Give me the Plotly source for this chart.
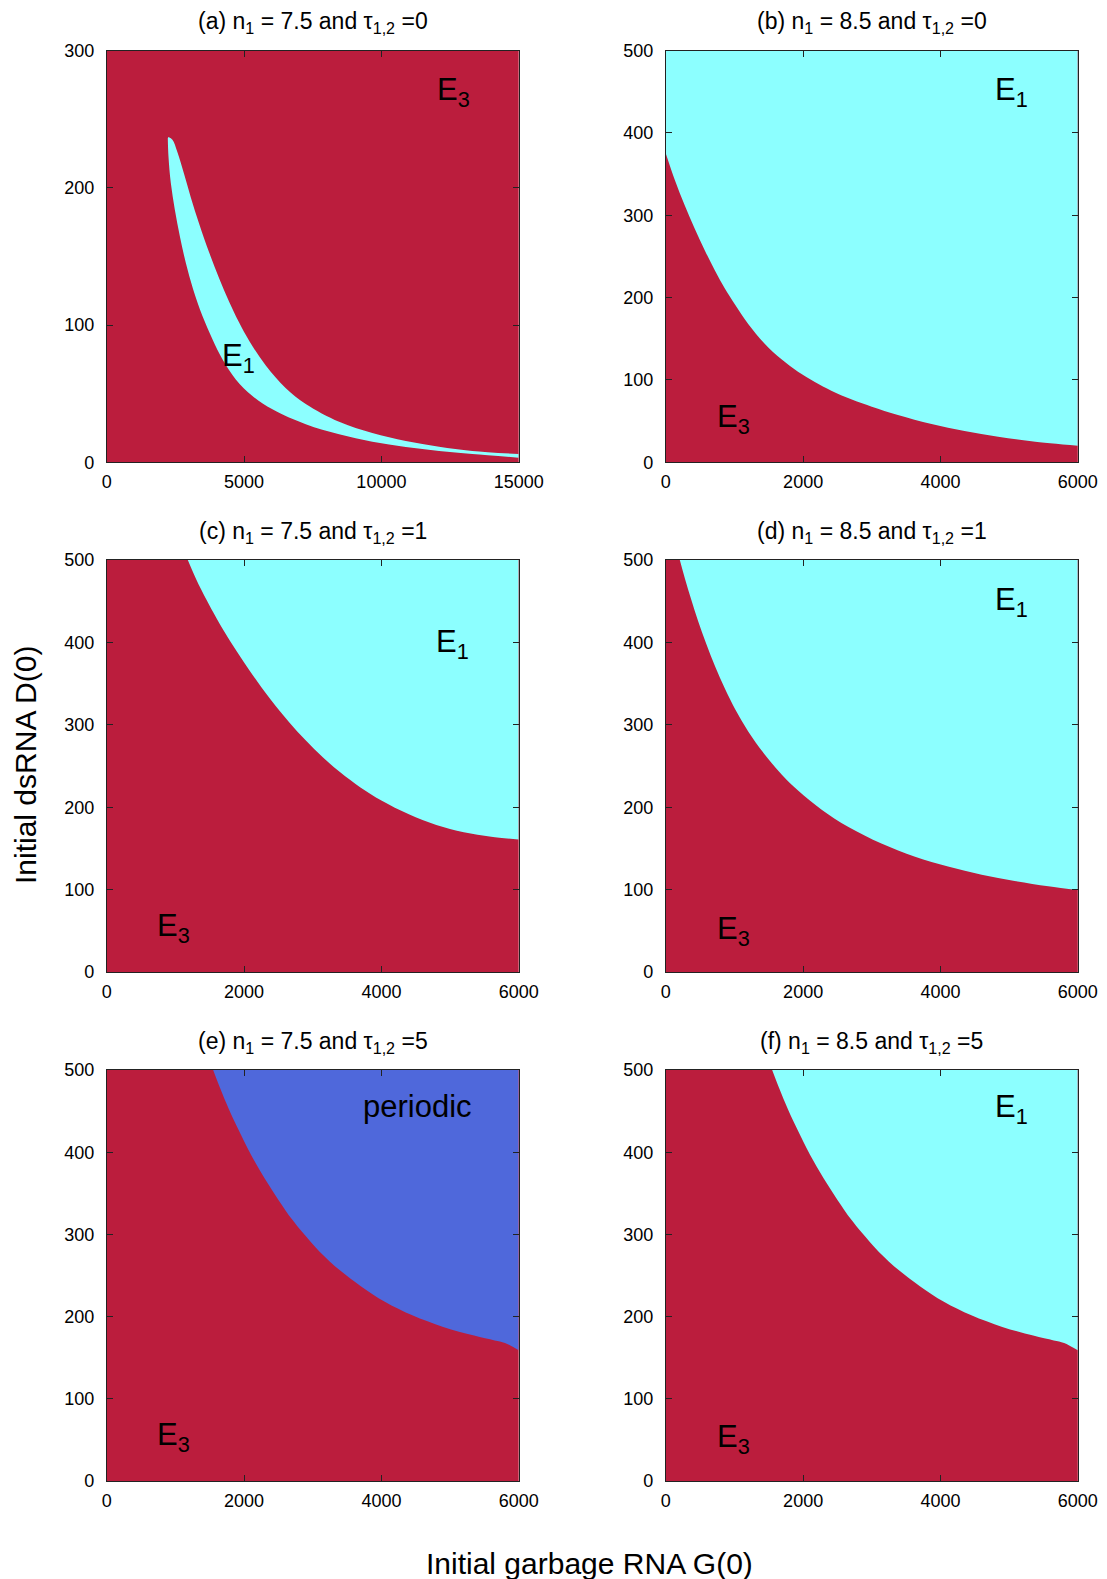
import plotly.graph_objects as go
from plotly.subplots import make_subplots

# ---------------- data ----------------
# panel (a): E1 band bounded by an upper and a lower curve
a_upper_x = [2245, 2390, 2570, 2815, 3060, 3360, 3725, 4090, 4455, 4800, 5200, 5790, 6520, 7245, 8460, 9670, 10890, 12100, 13310, 15000]
a_upper_y = [237, 235, 226, 210, 193, 174, 153, 134, 117, 102.5, 88, 70.5, 54, 42.5, 29.5, 21.3, 15.5, 11.3, 8.3, 6]
a_lower_x = [2221, 2245, 2330, 2476, 2658, 2876, 3143, 3483, 3847, 4211, 4697, 5303, 6032, 7245, 8459, 9672, 10886, 12099, 13313, 15000]
a_lower_y = [236, 223, 203.6, 184.2, 164.8, 145.4, 126, 106.5, 89.6, 75, 60.4, 48.3, 38.6, 27.7, 20.4, 15, 11.2, 8.3, 6.1, 3.4]

# panel (b): boundary between E3 (below) and E1 (above)
b_x = [0, 130, 275, 420, 570, 715, 860, 1005, 1200, 1440, 1685, 1925, 2170, 2410, 2700, 3000, 3380, 3870, 4350, 4840, 5325, 6000]
b_y = [375, 343, 312, 284, 257, 233, 211, 192, 168, 144, 125, 110, 97.5, 87, 76.5, 67.5, 57.5, 46.5, 38, 31, 25.5, 20]

# panel (c)
c_x = [1180, 1300, 1450, 1600, 1800, 2000, 2200, 2400, 2650, 2900, 3150, 3400, 3700, 4000, 4400, 4800, 5200, 5600, 6000]
c_y = [500, 477, 452, 429, 401, 375.7, 351.7, 329.3, 303.8, 280.8, 260.3, 242.3, 223.7, 208.1, 191.3, 178.5, 169.7, 164.1, 160.9]

# panel (d)
d_x = [204, 280, 370, 470, 590, 720, 860, 1010, 1200, 1440, 1690, 1930, 2270, 2660, 3140, 3630, 4110, 4600, 5080, 5570, 6000]
d_y = [500, 477, 452, 426, 398, 370.5, 344, 319, 292, 264, 239.5, 220, 197, 176, 156, 140, 128, 118, 110.5, 104, 99.4]

# panel (e): boundary between E3 (below) and periodic (above)
e_x = [1549, 1650, 1780, 1920, 2100, 2300, 2500, 2700, 2850, 3100, 3400, 3700, 4050, 4450, 4900, 5350, 5650, 5800, 6000]
e_y = [500, 478, 452, 427, 397, 368, 342, 318, 302.5, 279, 256, 237, 218, 201.5, 187.5, 177, 171, 168, 159]

# panel (f)
f_x = [1549, 1650, 1780, 1920, 2100, 2300, 2500, 2700, 2850, 3100, 3400, 3700, 4050, 4450, 4900, 5350, 5650, 5800, 6000]
f_y = [500, 478, 452, 427, 397, 368, 342, 318, 302.5, 279, 256, 237, 218, 201.5, 187.5, 177, 171, 168, 159]

x_ticks_a = [0, 5000, 10000, 15000]
x_ticks = [0, 2000, 4000, 6000]
y_ticks_a = [0, 100, 200, 300]
y_ticks = [0, 100, 200, 300, 400, 500]

titles = [
    "(a) n<sub>1</sub> = 7.5 and τ<sub>1,2</sub> =0",
    "(b) n<sub>1</sub> = 8.5 and τ<sub>1,2</sub> =0",
    "(c) n<sub>1</sub> = 7.5 and τ<sub>1,2</sub> =1",
    "(d) n<sub>1</sub> = 8.5 and τ<sub>1,2</sub> =1",
    "(e) n<sub>1</sub> = 7.5 and τ<sub>1,2</sub> =5",
    "(f) n<sub>1</sub> = 8.5 and τ<sub>1,2</sub> =5",
]

# ---------------- style ----------------
RED = "#BB1D3D"
CYAN = "#8CFFFF"
BLUE = "#4F68DB"
FONT = "Liberation Sans, Arial, Helvetica, sans-serif"
OFF = 8                      # page body margin of the browser
W, H = 1107 - OFF, 1579 - OFF
SPL = dict(width=0, shape="spline", smoothing=1.0)

def px_x(p):
    return (p - OFF) / W

def px_y(p):
    return 1 - (p - OFF) / H

fig = make_subplots(rows=3, cols=2)

def top_line(row, col, x0, x1, ymax):
    fig.add_trace(go.Scatter(x=[x0, x1], y=[ymax, ymax], mode="lines",
                             line=dict(width=0), hoverinfo="skip",
                             showlegend=False), row=row, col=col)

def region(row, col, xs, ys, color):
    fig.add_trace(go.Scatter(x=xs, y=ys, mode="lines", fill="tonexty",
                             fillcolor=color, line=SPL,
                             hoverinfo="skip", showlegend=False),
                  row=row, col=col)

# (a)
fig.add_trace(go.Scatter(x=a_upper_x, y=a_upper_y, mode="lines", line=SPL,
                         hoverinfo="skip", showlegend=False), row=1, col=1)
region(1, 1, a_lower_x, a_lower_y, CYAN)
# (b)
top_line(1, 2, b_x[0], b_x[-1], 500)
region(1, 2, b_x, b_y, CYAN)
# (c)
top_line(2, 1, c_x[0], c_x[-1], 500)
region(2, 1, c_x, c_y, CYAN)
# (d)
top_line(2, 2, d_x[0], d_x[-1], 500)
region(2, 2, d_x, d_y, CYAN)
# (e)
top_line(3, 1, e_x[0], e_x[-1], 500)
region(3, 1, e_x, e_y, BLUE)
# (f)
top_line(3, 2, f_x[0], f_x[-1], 500)
region(3, 2, f_x, f_y, CYAN)

# plot areas in page pixels
cols = [(106.8, 518.7), (665.8, 1077.8)]
rows = [(50.5, 462.3), (560.0, 972.0), (1070.0, 1481.0)]

axis_common = dict(showgrid=False, zeroline=False, showline=True, mirror="ticks",
                   linecolor="#222222", linewidth=1, ticks="inside", ticklen=6,
                   tickwidth=1, tickcolor="#222222", automargin=False,
                   tickfont=dict(family=FONT, size=18, color="black"))

idx = 0
annotations = []
for r in range(3):
    for c in range(2):
        idx += 1
        sfx = "" if idx == 1 else str(idx)
        x0, x1 = cols[c]
        y0, y1 = rows[r]
        xd = [px_x(x0), px_x(x1)]
        yd = [px_y(y1), px_y(y0)]
        if idx == 1:
            xr, xt, yr, yt = [0, 15000], x_ticks_a, [0, 300], y_ticks_a
        else:
            xr, xt, yr, yt = [0, 6000], x_ticks, [0, 500], y_ticks
        fig.layout["xaxis" + sfx].update(domain=xd, range=xr, tickvals=xt,
                                         ticktext=[str(v) for v in xt],
                                         ticklabelstandoff=3, **axis_common)
        fig.layout["yaxis" + sfx].update(domain=yd, range=yr, tickvals=yt,
                                         ticktext=[str(v) for v in yt],
                                         ticklabelstandoff=8, **axis_common)
        annotations.append(dict(text=titles[idx - 1], xref="paper", yref="paper",
                                x=(xd[0] + xd[1]) / 2, y=px_y(y0 - 28),
                                xanchor="center", yanchor="middle", showarrow=False,
                                font=dict(family=FONT, size=23, color="black")))

# region labels
labels = [
    (1, "E<sub>3</sub>", 12640, 270), (1, "E<sub>1</sub>", 4800, 76),
    (2, "E<sub>1</sub>", 5040, 450), (2, "E<sub>3</sub>", 980, 52),
    (3, "E<sub>1</sub>", 5030, 398), (3, "E<sub>3</sub>", 965, 53),
    (4, "E<sub>1</sub>", 5040, 449), (4, "E<sub>3</sub>", 980, 50),
    (5, "periodic", 4530, 456), (5, "E<sub>3</sub>", 975, 53),
    (6, "E<sub>1</sub>", 5040, 452), (6, "E<sub>3</sub>", 980, 51),
]
for i, t, x, y in labels:
    sfx = "" if i == 1 else str(i)
    annotations.append(dict(text=t, xref="x" + sfx, yref="y" + sfx, x=x, y=y,
                            xanchor="center", yanchor="middle", showarrow=False,
                            font=dict(family=FONT, size=31, color="black")))

# axis titles
annotations.append(dict(text="Initial dsRNA D(0)", xref="paper", yref="paper",
                        x=px_x(25), y=px_y(765), textangle=-90, showarrow=False,
                        xanchor="center", yanchor="middle",
                        font=dict(family=FONT, size=30, color="black")))
annotations.append(dict(text="Initial garbage RNA G(0)", xref="paper", yref="paper",
                        x=px_x(589), y=px_y(1563), showarrow=False,
                        xanchor="center", yanchor="middle",
                        font=dict(family=FONT, size=30, color="black")))

fig.update_layout(width=W, height=H,
                  margin=dict(l=0, r=0, t=0, b=0, pad=0, autoexpand=False),
                  paper_bgcolor="white", plot_bgcolor=RED,
                  annotations=annotations, showlegend=False)

fig.write_html("out.html")
